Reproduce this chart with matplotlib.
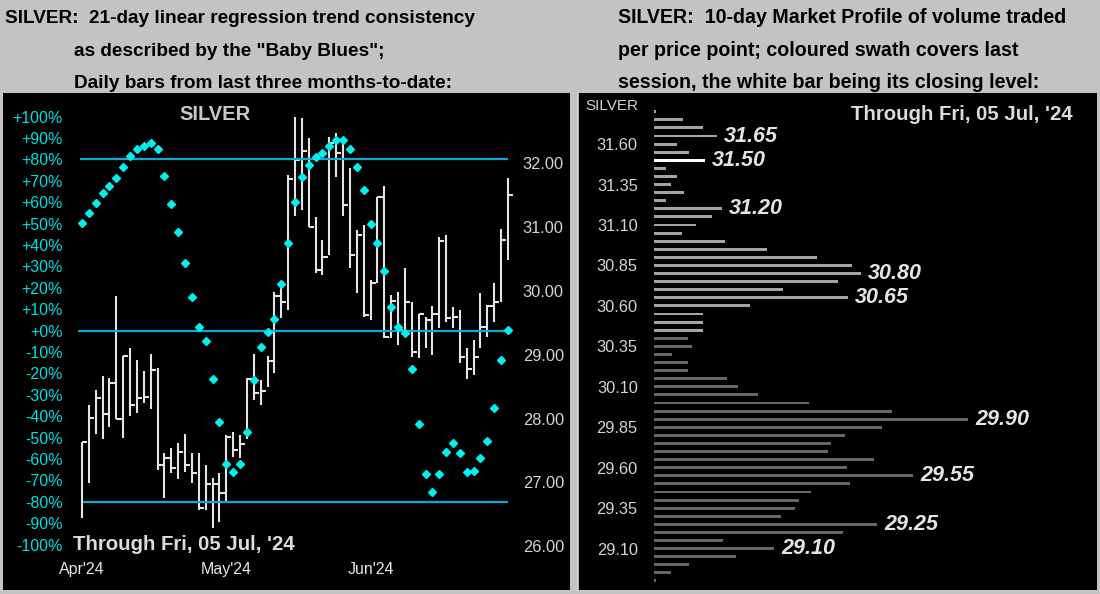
import numpy as np
import matplotlib.pyplot as plt

plt.rcParams['font.family'] = ['Liberation Sans', 'DejaVu Sans']

# ---- left panel: daily bars (Apr - 05 Jul 2024) ----
bar_high = [27.63, 28.21, 28.45, 28.67, 28.64, 29.92, 28.98, 29.10, 28.92, 28.74,
            29.01, 28.79, 27.46, 27.54, 27.62, 27.76, 27.46, 27.46, 27.27, 27.07,
            27.15, 27.74, 27.79, 27.74, 28.64, 29.01, 28.60, 28.98, 29.98, 30.05,
            31.82, 32.73, 32.71, 32.40, 31.16, 30.80, 32.41, 32.47, 32.33, 31.93,
            30.95, 31.03, 30.17, 31.47, 31.64, 29.94, 29.98, 30.36, 29.83, 29.64,
            29.59, 29.76, 30.84, 30.88, 29.75, 29.70, 29.10, 29.23, 29.97, 29.78,
            30.12, 30.97, 31.77]
bar_low = [26.44, 26.99, 27.76, 27.68, 27.87, 27.99, 27.69, 28.04, 28.09, 28.24,
           28.15, 27.19, 26.75, 27.15, 27.05, 27.16, 26.99, 26.57, 26.57, 26.28,
           26.38, 26.69, 27.40, 27.38, 27.68, 28.29, 28.21, 28.49, 28.71, 29.58,
           29.70, 31.17, 31.27, 31.00, 30.28, 30.25, 30.56, 31.79, 31.17, 30.36,
           29.97, 29.59, 29.55, 30.12, 29.26, 29.26, 29.15, 29.34, 28.96, 28.95,
           29.11, 29.00, 29.42, 29.51, 29.42, 28.87, 28.62, 28.68, 29.11, 29.28,
           29.51, 29.83, 30.48]
bar_close = [27.63, 28.01, 28.32, 28.07, 28.56, 27.99, 28.98, 28.21, 28.32, 28.34,
             28.76, 27.27, 27.38, 27.22, 27.48, 27.27, 27.15, 26.60, 26.97, 26.97,
             26.83, 27.71, 27.51, 27.60, 28.62, 28.40, 28.43, 28.90, 29.92, 29.83,
             31.75, 32.05, 32.19, 31.00, 30.33, 30.53, 32.32, 32.16, 31.35, 30.56,
             30.88, 29.62, 30.12, 31.47, 29.28, 29.84, 29.39, 29.83, 29.04, 29.64,
             29.54, 29.64, 30.78, 29.58, 29.59, 28.96, 28.78, 28.96, 29.44, 29.76,
             29.83, 30.80, 31.50]
trend_pct = [50.5, 54.9, 59.8, 64.2, 67.8, 71.5, 76.6, 81.8, 84.8, 86.3,
             87.6, 84.8, 72.3, 59.2, 46.1, 31.5, 15.6, 1.6, -4.7, -22.4,
             -42.7, -62.4, -66.2, -62.4, -47.2, -23.0, -7.8, -0.5, 5.3, 21.7,
             41.1, 60.0, 71.7, 77.4, 81.0, 82.9, 86.3, 89.1, 89.1, 84.8,
             76.6, 65.7, 49.7, 40.8, 27.9, 11.2, 1.6, -1.2, -18.0, -43.6,
             -66.8, -75.5, -66.8, -56.7, -52.3, -57.3, -66.0, -65.4, -59.5, -51.5,
             -36.3, -13.7, 0.3]
month_labels = ["Apr'24", "May'24", "Jun'24"]
month_idx = [0, 21, 42]
pct_ticks = [-100, -90, -80, -70, -60, -50, -40, -30, -20, -10,
             0, 10, 20, 30, 40, 50, 60, 70, 80, 90, 100]
pct_lines = [80, 0, -80]
price_ticks = [26, 27, 28, 29, 30, 31, 32]

# ---- right panel: 10-day market profile ----
profile_levels = [31.80, 31.75, 31.70, 31.65, 31.60, 31.55, 31.50, 31.45, 31.40, 31.35,
                  31.30, 31.25, 31.20, 31.15, 31.10, 31.05, 31.00, 30.95, 30.90, 30.85,
                  30.80, 30.75, 30.70, 30.65, 30.60, 30.55, 30.50, 30.45, 30.40, 30.35,
                  30.30, 30.25, 30.20, 30.15, 30.10, 30.05, 30.00, 29.95, 29.90, 29.85,
                  29.80, 29.75, 29.70, 29.65, 29.60, 29.55, 29.50, 29.45, 29.40, 29.35,
                  29.30, 29.25, 29.20, 29.15, 29.10, 29.05, 29.00, 28.95, 28.90]
profile_volume = [2, 29, 49, 63, 23, 35, 51, 12, 23, 17,
                  30, 12, 68, 58, 42, 28, 71, 113, 163, 198,
                  207, 184, 129, 194, 96, 49, 49, 49, 34, 38,
                  18, 34, 34, 73, 84, 104, 155, 238, 314, 228,
                  191, 177, 174, 220, 193, 259, 196, 157, 145, 141,
                  127, 223, 189, 69, 120, 82, 35, 17, 2]
profile_ticks = [31.60, 31.35, 31.10, 30.85, 30.60, 30.35, 30.10, 29.85, 29.60, 29.35, 29.10]
label_levels = [31.65, 31.50, 31.20, 30.80, 30.65, 29.90, 29.55, 29.25, 29.10]
session_low, session_high = 30.45, 31.80
last_close = 31.50

BG = '#c3c3c3'
GREY_TXT = '#d4d4d4'
CYAN = '#00f0f0'
LINE_BLUE = '#10a8d8'

W, H = 1100, 594
fig = plt.figure(figsize=(W / 100, H / 100), dpi=100, facecolor=BG)


def px_box(x0, y0, x1, y1):
    return [x0 / W, 1 - y1 / H, (x1 - x0) / W, (y1 - y0) / H]


# header texts
hdr_left = ['SILVER:  21-day linear regression trend consistency',
            'as described by the "Baby Blues";',
            'Daily bars from last three months-to-date:']
hdr_right = ['SILVER:  10-day Market Profile of volume traded',
             'per price point; coloured swath covers last',
             'session, the white bar being its closing level:']
base_y = [23, 56, 88]
for k, (tl, tr) in enumerate(zip(hdr_left, hdr_right)):
    fig.text((5 if k == 0 else 74) / W, 1 - base_y[k] / H, tl, fontsize=13.7,
             fontweight='bold', color='black', va='baseline')
    fig.text(618 / W, 1 - base_y[k] / H, tr, fontsize=14.1,
             fontweight='bold', color='black', va='baseline')

# ---------------- left panel ----------------
ax = fig.add_axes(px_box(3, 93, 570, 590), facecolor='black')
n = len(bar_close)
idx = np.arange(n)
ax.vlines(idx, bar_low, bar_high, color='#e4e4e4', lw=1.5)
ax.hlines(bar_close, idx, idx + 0.75, color='#e4e4e4', lw=1.5)
ax.set_xlim(-11.5, 71.03)
ax.set_ylim(25.312, 33.102)
ax.set_xticks(month_idx)
ax.set_xticklabels(month_labels)
ax.tick_params(axis='x', length=0, pad=-20, labelsize=11.5, labelcolor='#e6e6e6')
for s in ax.spines.values():
    s.set_visible(False)

axp = ax.twinx()
axp.set_ylim(-121.2, 111.07)
axp.hlines(pct_lines, [-0.3, -0.6, 0.1], n - 1, color=LINE_BLUE, lw=1.6)
axp.plot(idx, trend_pct, ls='none', marker='D', ms=4.4, color=CYAN, mec=CYAN)
for s in axp.spines.values():
    s.set_visible(False)

# price scale on the right (inside), percent scale on the left (inside)
ax.set_yticks(price_ticks)
ax.set_yticklabels([f'{p:.2f}' for p in price_ticks])
ax.yaxis.tick_right()
ax.tick_params(axis='y', length=0, pad=-34, labelsize=11.8, labelcolor=GREY_TXT)

axp.set_yticks(pct_ticks)
axp.set_yticklabels([f'{v:+d}%' if v != 0 else '+0%' for v in pct_ticks])
axp.yaxis.tick_left()
axp.tick_params(axis='y', length=0, pad=-43, labelsize=11.5, labelcolor='#00e0e0')

fig.text(215 / W, 1 - 115 / H, 'SILVER', fontsize=14.5, fontweight='bold',
         color='#c8c8c8', ha='center', va='center')
fig.text(73 / W, 1 - 545 / H, "Through Fri, 05 Jul, '24", fontsize=14.7,
         fontweight='bold', color='#dcdcdc', ha='left', va='center')

# ---------------- right panel ----------------
axr = fig.add_axes(px_box(578, 93, 1097, 590), facecolor='black')
levels = np.array(profile_levels)
vols = np.array(profile_volume)
colors = np.where(levels == last_close, '#ffffff',
                  np.where((levels >= session_low) & (levels <= session_high),
                           '#a4a4a4', '#686868'))
axr.barh(levels, vols, height=0.018, left=0, color=colors)
axr.set_xlim(-76, 443)
axr.set_ylim(28.844, 31.916)
axr.set_xticks([])
axr.set_yticks(profile_ticks)
axr.set_yticklabels([f'{p:.2f}' for p in profile_ticks])
axr.tick_params(axis='y', length=0, pad=-43, labelsize=11.8, labelcolor=GREY_TXT)
for s in axr.spines.values():
    s.set_visible(False)
axr.spines['left'].set_visible(True)
axr.spines['left'].set_color('#d8d8d8')
axr.spines['left'].set_linewidth(1.2)

for lv in label_levels:
    v = vols[np.isclose(levels, lv)][0]
    axr.annotate(f'{lv:.2f}', xy=(v, lv), xytext=(5, 0), textcoords='offset points',
                 fontsize=15.5, fontweight='bold', fontstyle='italic',
                 color='#e4e4e4', ha='left', va='center')

fig.text(638 / W, 1 - 106 / H, 'SILVER', fontsize=11, color=GREY_TXT,
         ha='right', va='center')
fig.text(1073 / W, 1 - 114 / H, "Through Fri, 05 Jul, '24", fontsize=14.7,
         fontweight='bold', color='#dcdcdc', ha='right', va='center')

fig.savefig('out.png', dpi=100, facecolor=fig.get_facecolor())
